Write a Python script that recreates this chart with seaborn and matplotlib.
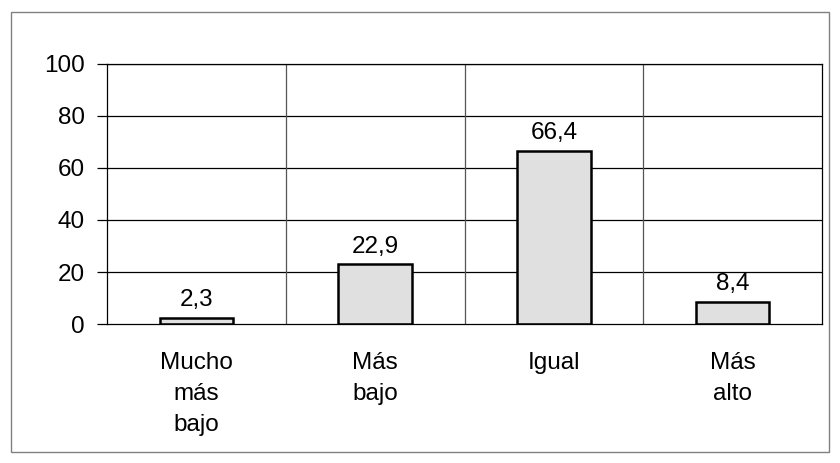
import matplotlib
matplotlib.use('Agg')
import matplotlib.pyplot as plt
import seaborn as sns
import pandas as pd
from matplotlib.patches import Rectangle

# Data
categories = ['Mucho\nmás\nbajo', 'Más\nbajo', 'Igual', 'Más\nalto']
values = [2.3, 22.9, 66.4, 8.4]
value_labels = ['2,3', '22,9', '66,4', '8,4']
y_ticks = [0, 20, 40, 60, 80, 100]

sns.set_style('white')
plt.rcParams['font.family'] = ['Liberation Sans', 'DejaVu Sans']
plt.rcParams['text.color'] = 'black'
plt.rcParams['xtick.color'] = 'black'
plt.rcParams['ytick.color'] = 'black'
plt.rcParams['xtick.labelcolor'] = 'black'
plt.rcParams['ytick.labelcolor'] = 'black'

df = pd.DataFrame({'cat': categories, 'val': values})

fig = plt.figure(figsize=(8.4, 4.63), dpi=100)
ax = fig.add_axes([0.1274, 0.3002, 0.8512, 0.5616])

sns.barplot(data=df, x='cat', y='val', color='#e0e0e0', edgecolor='black',
            linewidth=1.8, width=0.41, saturation=1, ax=ax, zorder=3)

ax.set_ylim(0, 100)
ax.set_xlim(-0.5, len(categories) - 0.5)
ax.set_yticks(y_ticks)
ax.set_xlabel('')
ax.set_ylabel('')

# grid: horizontal at y ticks, vertical at category boundaries
for y in y_ticks[1:]:
    ax.axhline(y, color='black', lw=0.9, zorder=1)
for b in [0.5, 1.5, 2.5]:
    ax.axvline(b, color='#555555', lw=0.9, zorder=1)

fs = 17.5
# x ticks: labels at centers, tick marks at boundaries
ax.set_xticks(range(len(categories)))
ax.set_xticklabels(categories, linespacing=1.55)
ax.set_xticks([-0.5, 0.5, 1.5, 2.5, 3.5], minor=True)
ax.tick_params(axis='x', which='major', length=0, pad=20, labelsize=fs)
ax.tick_params(axis='x', which='minor', length=8, width=0.9, color='#555555', direction='out')
ax.tick_params(axis='y', which='major', length=7, width=0.9, color='black',
               direction='out', labelsize=fs, pad=9, left=True)
for lab in ax.get_xticklabels():
    lab.set_verticalalignment('top')

for s in ['left', 'right', 'top', 'bottom']:
    ax.spines[s].set_visible(True)
    ax.spines[s].set_color('black')
    ax.spines[s].set_linewidth(0.9)
ax.spines['bottom'].set_zorder(4)

for i, (v, t) in enumerate(zip(values, value_labels)):
    ax.annotate(t, (i, v), xytext=(0, 5), textcoords='offset points',
                ha='center', va='bottom', fontsize=fs, color='black')

# outer border around chart
fig.patches.append(Rectangle((11 / 840, 1 - 452 / 463), 818 / 840, 440 / 463,
                             transform=fig.transFigure, fill=False,
                             edgecolor='#808080', lw=1))

fig.savefig('out.png', dpi=100)
